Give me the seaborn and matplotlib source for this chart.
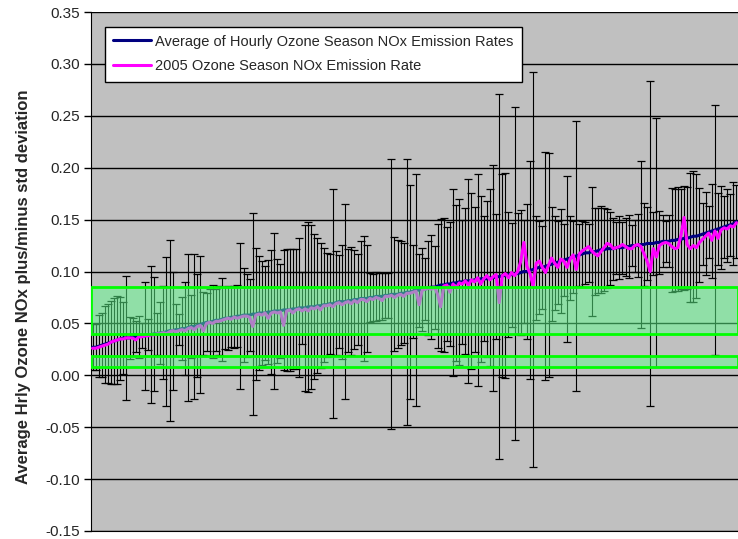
import numpy as np
import pandas as pd
import matplotlib
matplotlib.use("Agg")
import matplotlib.pyplot as plt
import seaborn as sns

# average of hourly ozone season NOx rates (one value per unit, sorted)
avg_rate = [
    0.027, 0.027, 0.028, 0.029, 0.030, 0.031, 0.032, 0.033, 0.034, 0.035,
    0.036, 0.036, 0.036, 0.037, 0.037, 0.037, 0.038, 0.038, 0.039, 0.039,
    0.040, 0.040, 0.041, 0.041, 0.042, 0.043, 0.043, 0.044, 0.044, 0.045,
    0.045, 0.046, 0.047, 0.047, 0.048, 0.049, 0.050, 0.051, 0.051, 0.052,
    0.053, 0.053, 0.054, 0.055, 0.055, 0.056, 0.056, 0.057, 0.057, 0.058,
    0.058, 0.058, 0.059, 0.059, 0.060, 0.060, 0.060, 0.061, 0.061, 0.062,
    0.062, 0.062, 0.063, 0.063, 0.063, 0.064, 0.064, 0.065, 0.065, 0.065,
    0.066, 0.066, 0.066, 0.067, 0.067, 0.068, 0.068, 0.069, 0.069, 0.070,
    0.071, 0.071, 0.071, 0.072, 0.072, 0.073, 0.073, 0.074, 0.074, 0.074,
    0.075, 0.075, 0.076, 0.076, 0.076, 0.077, 0.077, 0.078, 0.078, 0.078,
    0.079, 0.079, 0.080, 0.080, 0.081, 0.082, 0.082, 0.083, 0.083, 0.084,
    0.085, 0.085, 0.086, 0.087, 0.087, 0.088, 0.088, 0.089, 0.089, 0.090,
    0.090, 0.091, 0.091, 0.091, 0.092, 0.092, 0.093, 0.093, 0.093, 0.094,
    0.094, 0.095, 0.095, 0.096, 0.096, 0.097, 0.097, 0.098, 0.098, 0.099,
    0.100, 0.100, 0.101, 0.102, 0.103, 0.104, 0.104, 0.105, 0.106, 0.107,
    0.108, 0.109, 0.110, 0.111, 0.112, 0.113, 0.114, 0.115, 0.116, 0.117,
    0.118, 0.118, 0.119, 0.119, 0.120, 0.121, 0.121, 0.122, 0.122, 0.122,
    0.123, 0.123, 0.123, 0.124, 0.124, 0.125, 0.125, 0.125, 0.126, 0.126,
    0.127, 0.127, 0.127, 0.128, 0.128, 0.129, 0.129, 0.129, 0.130, 0.130,
    0.131, 0.131, 0.132, 0.132, 0.133, 0.134, 0.134, 0.135, 0.136, 0.137,
    0.138, 0.139, 0.140, 0.141, 0.142, 0.143, 0.144, 0.145, 0.146, 0.148,
]

# standard deviation of the hourly rates
std_dev = [
    0.022, 0.022, 0.030, 0.031, 0.037, 0.038, 0.040, 0.041, 0.042, 0.040,
    0.035, 0.060, 0.020, 0.018, 0.015, 0.020, 0.012, 0.052, 0.015, 0.066,
    0.055, 0.020, 0.030, 0.045, 0.072, 0.087, 0.057, 0.025, 0.015, 0.030,
    0.045, 0.071, 0.030, 0.070, 0.050, 0.066, 0.030, 0.028, 0.032, 0.035,
    0.030, 0.033, 0.040, 0.030, 0.031, 0.029, 0.030, 0.030, 0.070, 0.045,
    0.040, 0.035, 0.097, 0.064, 0.055, 0.050, 0.045, 0.050, 0.060, 0.075,
    0.050, 0.045, 0.058, 0.059, 0.059, 0.058, 0.058, 0.067, 0.035, 0.080,
    0.082, 0.079, 0.070, 0.065, 0.060, 0.055, 0.050, 0.048, 0.110, 0.050,
    0.045, 0.055, 0.094, 0.050, 0.052, 0.048, 0.044, 0.055, 0.060, 0.052,
    0.024, 0.023, 0.024, 0.023, 0.023, 0.022, 0.022, 0.130, 0.055, 0.052,
    0.050, 0.048, 0.128, 0.103, 0.045, 0.112, 0.035, 0.040, 0.030, 0.045,
    0.050, 0.040, 0.060, 0.064, 0.065, 0.055, 0.060, 0.090, 0.075, 0.080,
    0.060, 0.070, 0.098, 0.085, 0.070, 0.102, 0.080, 0.060, 0.075, 0.085,
    0.109, 0.060, 0.176, 0.098, 0.099, 0.060, 0.050, 0.160, 0.058, 0.060,
    0.050, 0.065, 0.105, 0.190, 0.050, 0.045, 0.040, 0.110, 0.108, 0.055,
    0.045, 0.040, 0.050, 0.035, 0.080, 0.040, 0.035, 0.130, 0.030, 0.032,
    0.030, 0.028, 0.062, 0.042, 0.041, 0.042, 0.040, 0.038, 0.035, 0.030,
    0.025, 0.030, 0.025, 0.028, 0.030, 0.020, 0.025, 0.030, 0.080, 0.040,
    0.035, 0.157, 0.030, 0.120, 0.030, 0.025, 0.020, 0.025, 0.050, 0.049,
    0.050, 0.048, 0.050, 0.049, 0.062, 0.063, 0.060, 0.045, 0.030, 0.040,
    0.025, 0.045, 0.120, 0.035, 0.040, 0.030, 0.035, 0.030, 0.040, 0.035,
]

# 2005 ozone season NOx emission rate
rate_2005 = [
    0.026, 0.026, 0.027, 0.028, 0.029, 0.030, 0.032, 0.033, 0.034, 0.035,
    0.035, 0.036, 0.036, 0.036, 0.034, 0.037, 0.037, 0.038, 0.038, 0.039,
    0.039, 0.040, 0.040, 0.041, 0.040, 0.042, 0.043, 0.042, 0.043, 0.044,
    0.043, 0.045, 0.046, 0.044, 0.047, 0.048, 0.043, 0.050, 0.051, 0.050,
    0.052, 0.052, 0.053, 0.054, 0.055, 0.054, 0.056, 0.055, 0.056, 0.057,
    0.057, 0.056, 0.047, 0.058, 0.059, 0.058, 0.060, 0.055, 0.060, 0.061,
    0.060, 0.061, 0.048, 0.062, 0.063, 0.060, 0.063, 0.064, 0.062, 0.064,
    0.062, 0.065, 0.064, 0.066, 0.063, 0.067, 0.067, 0.068, 0.066, 0.069,
    0.070, 0.068, 0.070, 0.071, 0.069, 0.072, 0.070, 0.073, 0.073, 0.071,
    0.074, 0.073, 0.075, 0.074, 0.072, 0.076, 0.076, 0.077, 0.075, 0.077,
    0.078, 0.076, 0.079, 0.079, 0.080, 0.081, 0.068, 0.082, 0.083, 0.084,
    0.083, 0.085, 0.078, 0.066, 0.086, 0.087, 0.080, 0.088, 0.084, 0.089,
    0.088, 0.091, 0.087, 0.092, 0.090, 0.094, 0.088, 0.093, 0.096, 0.092,
    0.095, 0.097, 0.070, 0.096, 0.098, 0.094, 0.099, 0.096, 0.100, 0.110,
    0.128, 0.105, 0.098, 0.086, 0.108, 0.110, 0.104, 0.099, 0.106, 0.113,
    0.108, 0.104, 0.112, 0.110, 0.104, 0.112, 0.116, 0.102, 0.117, 0.120,
    0.122, 0.124, 0.120, 0.117, 0.115, 0.119, 0.123, 0.127, 0.126, 0.122,
    0.123, 0.124, 0.126, 0.124, 0.122, 0.122, 0.125, 0.126, 0.124, 0.117,
    0.110, 0.100, 0.122, 0.114, 0.125, 0.127, 0.128, 0.127, 0.124, 0.122,
    0.123, 0.135, 0.152, 0.126, 0.122, 0.125, 0.123, 0.128, 0.131, 0.134,
    0.137, 0.130, 0.139, 0.132, 0.140, 0.142, 0.141, 0.144, 0.143, 0.147,
]

# highlighted green bands (low, high)
band_low = [0.040, 0.008]
band_high = [0.085, 0.019]

y_ticks = [-0.15, -0.10, -0.05, 0.00, 0.05, 0.10, 0.15, 0.20, 0.25, 0.30, 0.35]

df = pd.DataFrame({"unit": np.arange(len(avg_rate)),
                   "avg": avg_rate, "sd": std_dev, "r2005": rate_2005})

sns.set_style("ticks")
plt.rcParams["font.family"] = ["Liberation Sans", "DejaVu Sans"]
plt.rcParams["axes.unicode_minus"] = False

fig = plt.figure(figsize=(7.38, 5.39), dpi=100)
ax = fig.add_axes([91 / 738, 8 / 539, 647 / 738, 519 / 539])
ax.set_facecolor("#c0c0c0")

ax.errorbar(df["unit"], df["avg"], yerr=df["sd"], fmt="none", ecolor="black",
            elinewidth=0.8, capsize=2.6, capthick=0.9, zorder=2)
sns.lineplot(data=df, x="unit", y="avg", color="#000080", lw=2.2, ax=ax,
             label="Average of Hourly Ozone Season NOx Emission Rates", zorder=3)
sns.lineplot(data=df, x="unit", y="r2005", color="#ff00ff", lw=2.2, ax=ax,
             label="2005 Ozone Season NOx Emission Rate", zorder=4)

for lo, hi in zip(band_low, band_high):
    ax.axhspan(lo, hi, facecolor=(0.38, 1.0, 0.56, 0.5), edgecolor="#00ff00",
               lw=2, zorder=5)

ax.set_ylim(-0.15, 0.35)
ax.set_xlim(-0.5, len(avg_rate) - 0.5)
ax.set_yticks(y_ticks)
ax.set_yticklabels(["%.2f" % t for t in y_ticks], fontsize=11)
ax.set_xticks([])
ax.set_xlabel("")
ax.yaxis.grid(True, color="black", lw=1)
ax.set_axisbelow(True)
ax.tick_params(axis="y", direction="out", length=5, width=1, color="black", pad=3)
for s in ["top", "right"]:
    ax.spines[s].set_visible(False)
ax.spines["left"].set_color("black")
ax.spines["bottom"].set_color("black")
ax.set_ylabel("Average Hrly Ozone NOx plus/minus std deviation",
              fontsize=12, fontweight="bold")
ax.yaxis.set_label_coords(-0.093, 0.471)

leg = ax.legend(loc="upper left", bbox_to_anchor=(0.0216, 0.972), fontsize=10.5,
                frameon=True, fancybox=False, edgecolor="black",
                facecolor="white", framealpha=1, handlelength=2.6,
                handletextpad=0.3, borderpad=0.55, labelspacing=0.75,
                borderaxespad=0)
leg.get_frame().set_linewidth(1)
leg.set_zorder(10)

fig.savefig("out.png", dpi=100)
